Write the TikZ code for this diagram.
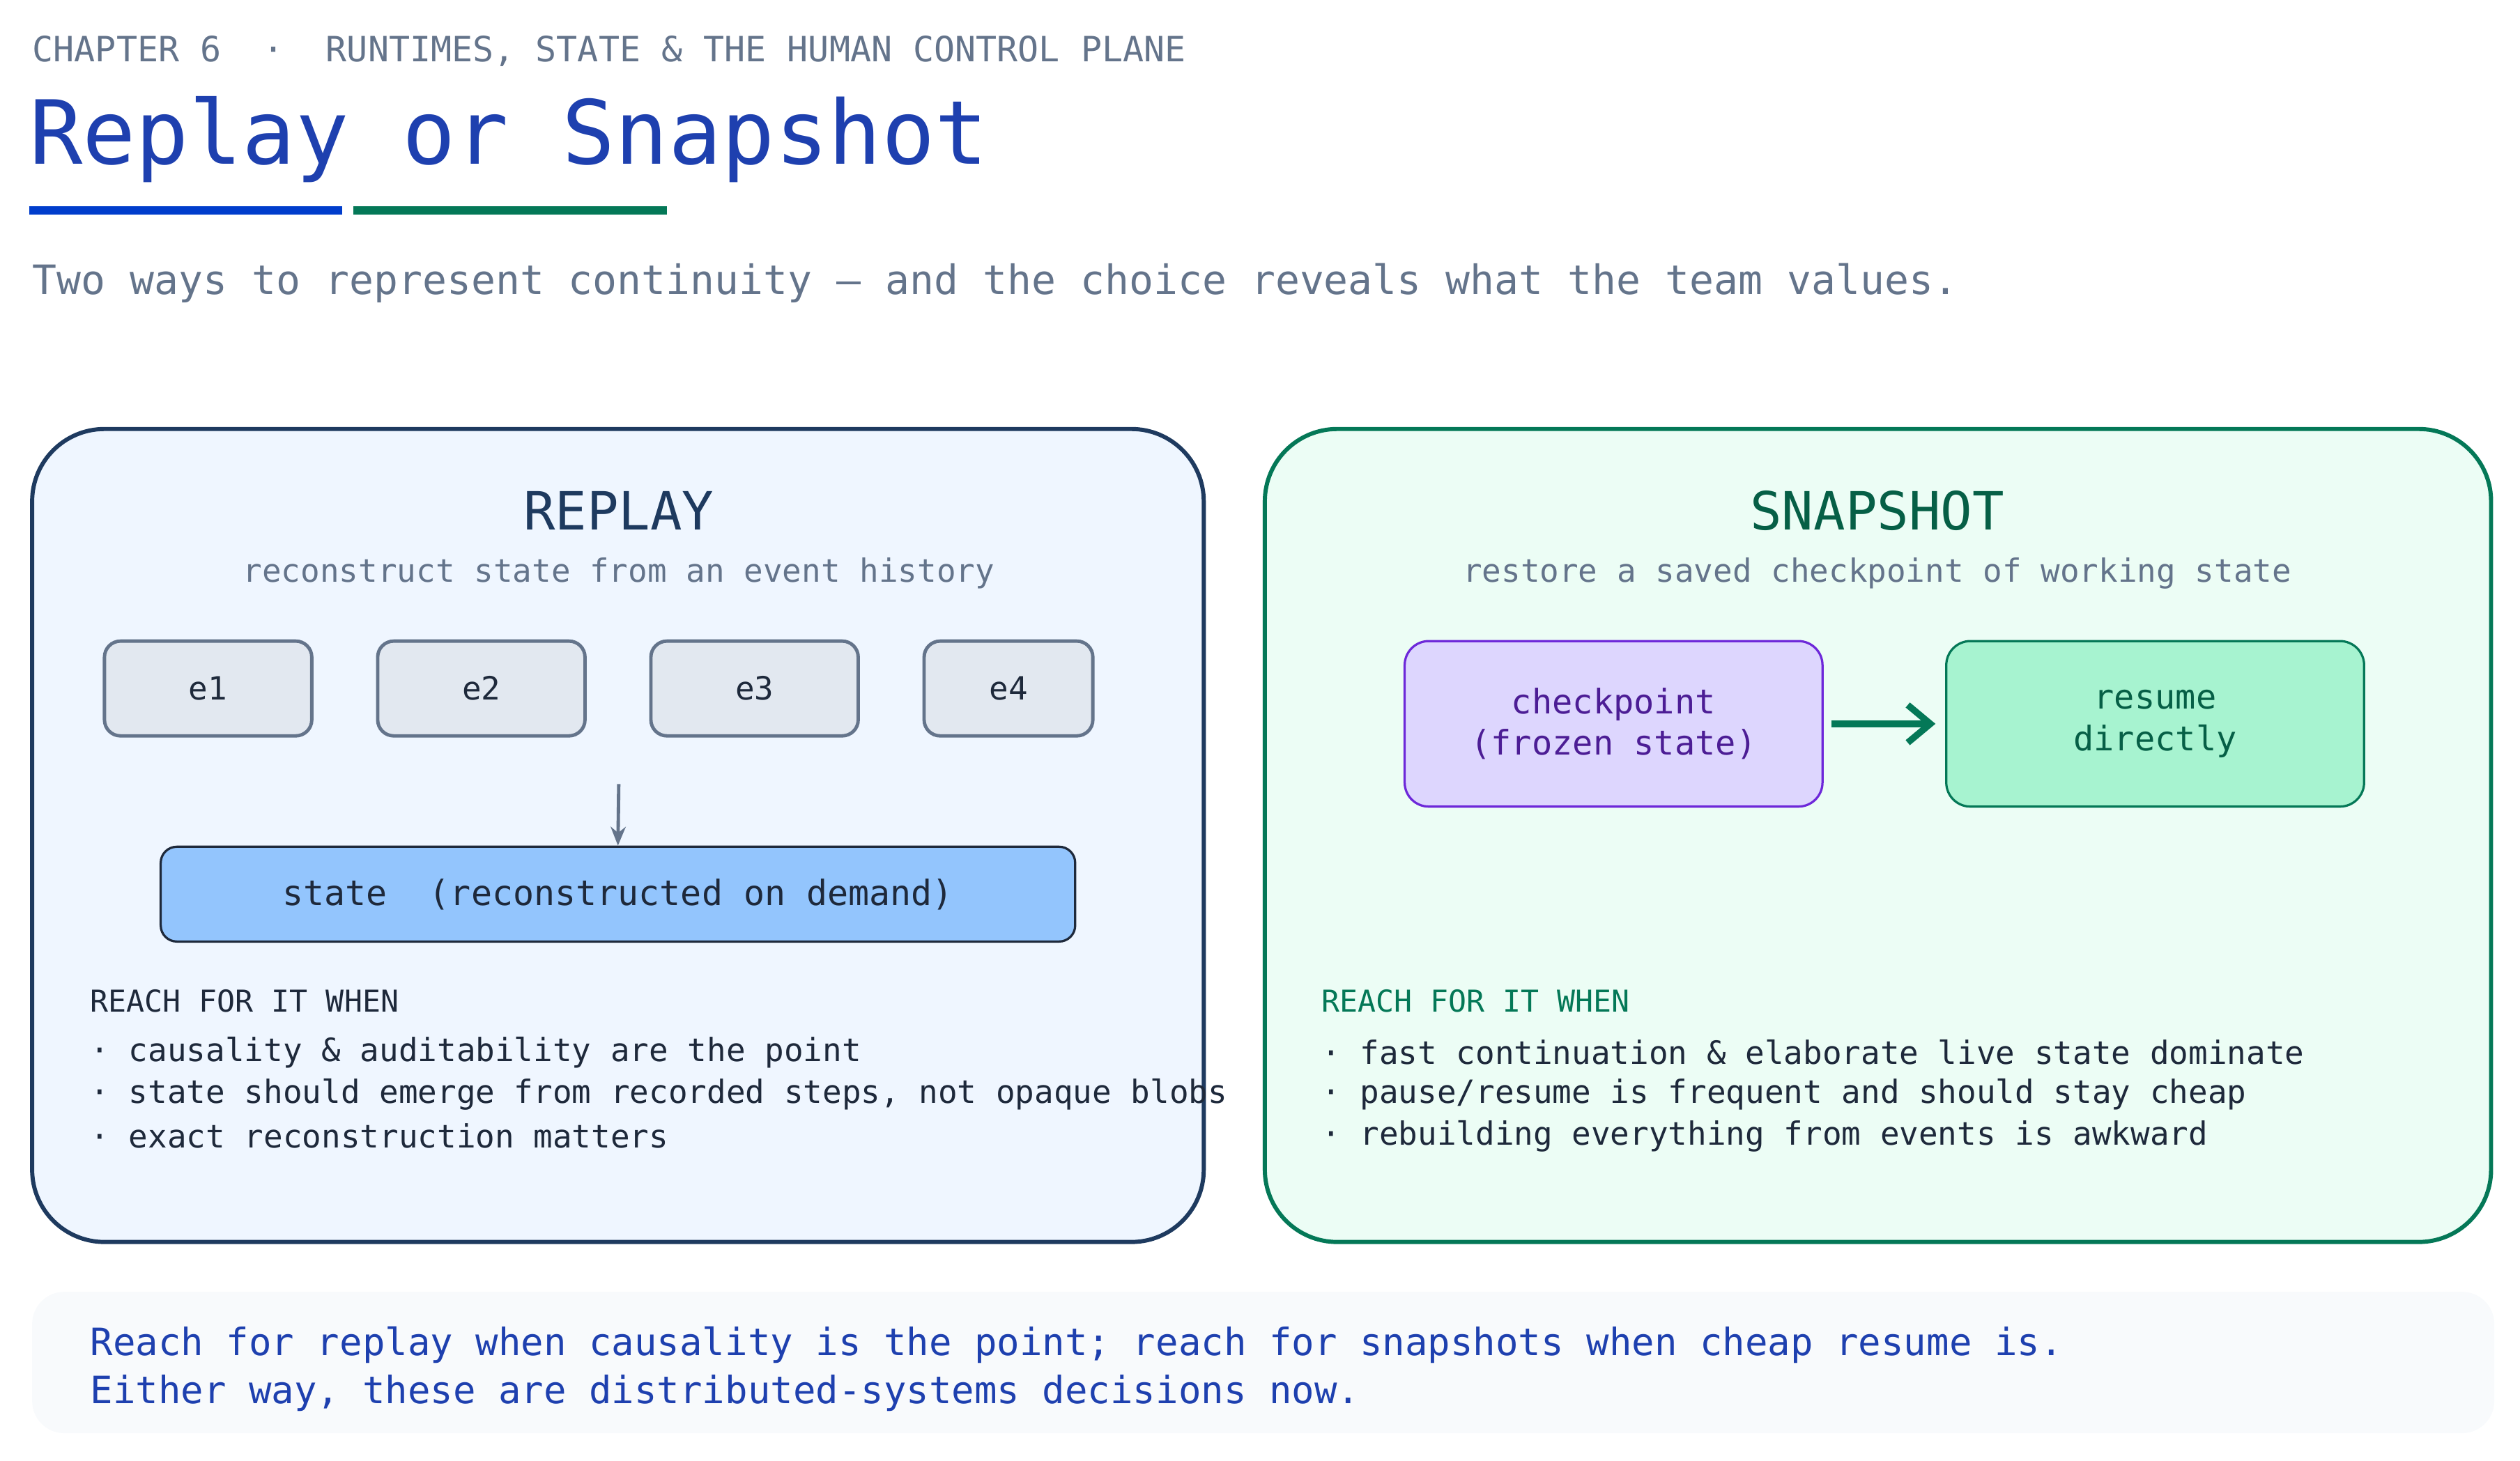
\documentclass[tikz,border=0pt]{standalone}
\usepackage{fontspec}
\setmainfont{DejaVu Sans Mono}
\usepackage{tikz}
\usetikzlibrary{arrows.meta}

\definecolor{titleblue}{HTML}{1E40AF}
\definecolor{greytext}{HTML}{64748B}
\definecolor{navy}{HTML}{1E3A5F}
\definecolor{darkgreen}{HTML}{047857}
\definecolor{deepgreen}{HTML}{065F46}
\definecolor{replayfill}{HTML}{EFF6FF}
\definecolor{snapfill}{HTML}{ECFDF5}
\definecolor{eventfill}{HTML}{E2E8F0}
\definecolor{statefill}{HTML}{93C5FD}
\definecolor{statedraw}{HTML}{1E293B}
\definecolor{ckfill}{HTML}{DDD6FE}
\definecolor{ckdraw}{HTML}{6D28D9}
\definecolor{cktext}{HTML}{4C1D95}
\definecolor{resfill}{HTML}{A7F3D0}
\definecolor{footfill}{HTML}{F8FAFC}
\definecolor{ink}{HTML}{1E293B}

\begin{document}
\begin{tikzpicture}[
    panel/.style={rounded corners=1.35cm, line width=2.2pt, minimum height=15.18cm},
    event/.style={rounded corners=0.3cm, line width=1.8pt, draw=greytext, fill=eventfill,
        minimum height=1.77cm, text=ink, font=\fontsize{17}{20}\selectfont},
    card/.style={rounded corners=0.45cm, line width=1.2pt, minimum width=7.8cm,
        minimum height=3.09cm, align=center, font=\fontsize{18}{22}\selectfont},
    txt/.style={anchor=west, inner sep=0pt},
    bullet/.style={txt, text=ink, font=\fontsize{17}{20}\selectfont},
    reach/.style={txt, font=\fontsize{16}{20}\selectfont}
]
    \useasboundingbox (0,0) rectangle (47.04,-27.27);

    % heading
    \node[txt, text=greytext, font=\fontsize{18.5}{22}\selectfont] (chapter) at (0.6,-0.96)
        {CHAPTER 6\ \ ·\ \ RUNTIMES, STATE \& THE HUMAN CONTROL PLANE};
    \node[txt, text=titleblue, font=\fontsize{47}{56}\selectfont] (title) at (0.54,-2.6) {Replay or Snapshot};
    \draw[line width=4.5pt, color=blue!70!cyan!80!black] (0.54,-3.93) -- (6.39,-3.93);
    \draw[line width=4.5pt, color=darkgreen] (6.6,-3.93) -- (12.45,-3.93);
    \node[txt, text=greytext, font=\fontsize{21.5}{26}\selectfont] (subtitle) at (0.6,-5.28)
        {Two ways to represent continuity — and the choice reveals what the team values.};

    % panels
    \node[panel, draw=navy, fill=replayfill, minimum width=21.87cm] (replay) at (11.535,-15.6) {};
    \node[panel, draw=darkgreen, fill=snapfill, minimum width=22.89cm] (snap) at (35.055,-15.6) {};

    \node[text=navy, font=\fontsize{28}{32}\selectfont] (replayhead) at (11.55,-9.54) {REPLAY};
    \node[text=greytext, font=\fontsize{17}{20}\selectfont] (replaysub) at (11.55,-10.71)
        {reconstruct state from an event history};
    \node[text=deepgreen, font=\fontsize{28}{32}\selectfont] (snaphead) at (35.04,-9.54) {SNAPSHOT};
    \node[text=greytext, font=\fontsize{17}{20}\selectfont] (snapsub) at (35.04,-10.71)
        {restore a saved checkpoint of working state};

    % replay events
    \node[event, minimum width=3.87cm] (e1) at (3.885,-12.855) {e1};
    \node[event, minimum width=3.87cm] (e2) at (8.985,-12.855) {e2};
    \node[event, minimum width=3.87cm] (e3) at (14.085,-12.855) {e3};
    \node[event, minimum width=3.15cm] (e4) at (18.825,-12.855) {e4};

    \node[rounded corners=0.3cm, line width=1.2pt, draw=statedraw, fill=statefill,
        minimum width=17.07cm, minimum height=1.77cm, text=ink,
        font=\fontsize{18.5}{22}\selectfont] (state) at (11.535,-16.695)
        {state\ \ (reconstructed on demand)};
    \coordinate (fold) at (11.55,-14.64);
    \draw[-{Stealth[length=10pt,width=8pt]}, line width=1.8pt, greytext] (fold) -- (state.north);

    % snapshot cards
    \node[card, draw=ckdraw, fill=ckfill, text=cktext] (check) at (30.12,-13.515)
        {checkpoint\\(frozen state)};
    \node[card, draw=darkgreen, fill=resfill, text=deepgreen] (resume) at (40.23,-13.515)
        {resume\\directly};
    \draw[-{Straight Barb[length=12pt,width=20pt]}, line width=3.5pt, darkgreen]
        ([xshift=0.15cm]check.east) -- ([xshift=-0.18cm]resume.west);

    % reach lists
    \node[reach, text=ink] (replayreach) at (1.68,-18.69) {REACH FOR IT WHEN};
    \node[bullet] (r1) at (1.68,-19.65) {· causality \& auditability are the point};
    \node[bullet] (r2) at (1.68,-20.43) {· state should emerge from recorded steps, not opaque blobs};
    \node[bullet] (r3) at (1.68,-21.21) {· exact reconstruction matters};

    \node[reach, text=darkgreen] (snapreach) at (24.66,-18.69) {REACH FOR IT WHEN};
    \node[bullet] (s1) at (24.66,-19.65) {· fast continuation \& elaborate live state dominate};
    \node[bullet] (s2) at (24.66,-20.43) {· pause/resume is frequent and should stay cheap};
    \node[bullet] (s3) at (24.66,-21.21) {· rebuilding everything from events is awkward};

    % footer
    \node[rounded corners=0.6cm, fill=footfill, minimum width=45.96cm, minimum height=2.64cm]
        (footer) at (23.58,-25.44) {};
    \node[txt, text=titleblue, font=\fontsize{20}{24}\selectfont] (foot1) at (1.68,-25.11)
        {Reach for replay when causality is the point; reach for snapshots when cheap resume is.};
    \node[txt, text=titleblue, font=\fontsize{20}{24}\selectfont] (foot2) at (1.68,-26.01)
        {Either way, these are distributed-systems decisions now.};
\end{tikzpicture}
\end{document}
